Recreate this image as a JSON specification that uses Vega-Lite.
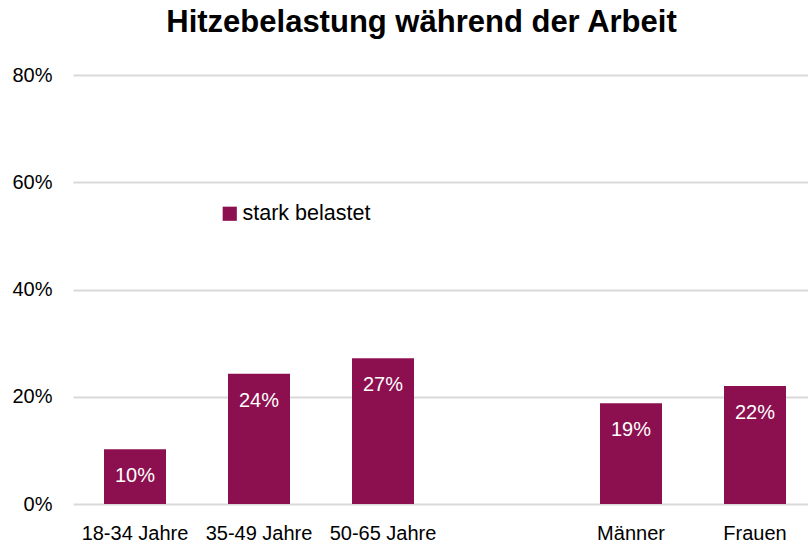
{
  "$schema": "https://vega.github.io/schema/vega-lite/v6.json",
  "width": 735,
  "height": 429,
  "autosize": {"type": "none"},
  "padding": {"left": 73, "top": 75, "right": 0, "bottom": 40},
  "background": "white",
  "title": {
    "text": "Hitzebelastung während der Arbeit",
    "font": "Liberation Sans Narrow, Arial Narrow, Liberation Sans",
    "fontSize": 31,
    "fontWeight": "bold",
    "color": "#000000",
    "anchor": "middle",
    "dx": -19,
    "offset": 26
  },
  "config": {
    "view": {"stroke": null},
    "font": "Liberation Sans Narrow, Arial Narrow, Liberation Sans"
  },
  "data": {
    "values": [
      {"gruppe": "18-34 Jahre", "wert": 0.102, "serie": "stark belastet"},
      {"gruppe": "35-49 Jahre", "wert": 0.243, "serie": "stark belastet"},
      {"gruppe": "50-65 Jahre", "wert": 0.272, "serie": "stark belastet"},
      {"gruppe": "Männer", "wert": 0.188, "serie": "stark belastet"},
      {"gruppe": "Frauen", "wert": 0.22, "serie": "stark belastet"}
    ]
  },
  "encoding": {
    "x": {
      "field": "gruppe",
      "type": "nominal",
      "sort": null,
      "scale": {
        "domain": ["18-34 Jahre", "35-49 Jahre", "50-65 Jahre", " ", "Männer", "Frauen"],
        "paddingInner": 0.5,
        "paddingOuter": 0.2137,
        "align": 0.585
      },
      "axis": {
        "title": null,
        "labelAngle": 0,
        "labelFontSize": 20,
        "labelColor": "#000000",
        "labelPadding": 19,
        "ticks": false,
        "domain": false,
        "grid": false
      }
    },
    "y": {
      "field": "wert",
      "type": "quantitative",
      "scale": {"domain": [0, 0.8]},
      "axis": {
        "title": null,
        "format": ".0%",
        "values": [0, 0.2, 0.4, 0.6, 0.8],
        "labelFontSize": 20,
        "labelColor": "#000000",
        "labelPadding": 21,
        "ticks": false,
        "domain": false,
        "gridColor": "#d9d9d9",
        "gridWidth": 2
      }
    }
  },
  "layer": [
    {
      "mark": {"type": "bar", "color": "#8c0f4f"},
      "encoding": {
        "color": {
          "field": "serie",
          "type": "nominal",
          "scale": {"range": ["#8c0f4f"]},
          "legend": {
            "title": null,
            "orient": "none",
            "legendX": 146,
            "legendY": 128,
            "symbolType": "square",
            "symbolSize": 200,
            "symbolStrokeWidth": 0,
            "labelFontSize": 21.5,
            "labelColor": "#000000",
            "labelOffset": 2
          }
        }
      }
    },
    {
      "mark": {"type": "text", "color": "white", "fontSize": 20, "baseline": "middle", "dy": 27},
      "encoding": {
        "text": {"field": "wert", "type": "quantitative", "format": ".0%"}
      }
    }
  ]
}
